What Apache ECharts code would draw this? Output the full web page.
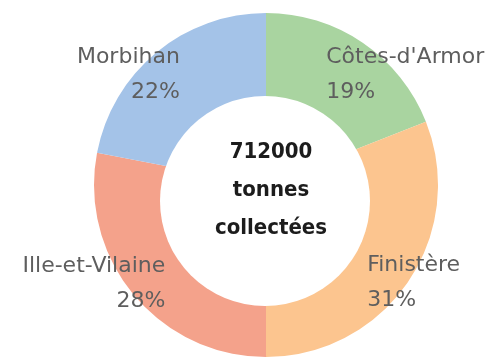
<!DOCTYPE html>
<html>
<head>
<meta charset="utf-8">
<script src="https://cdn.jsdelivr.net/npm/echarts@6/dist/echarts.min.js"></script>
<style>
  html, body { margin: 0; padding: 0; background: #fff; }
  #chartPie { width: 485px; height: 361px; }
</style>
</head>
<body>
<div id="chartPie"></div>
<script>
  // déchets collectés par département (%)
  const departements = ['Côtes-d\'Armor', 'Finistère', 'Ille-et-Vilaine', 'Morbihan']
  const parts = [19, 31, 28, 22]
  const couleurs = ['#a9d4a0', '#fcc58f', '#f4a28b', '#a4c3e8']
  const total = '712000'

  // décalage des étiquettes par rapport au milieu de l'anneau
  const labelAlign = ['left', 'left', 'right', 'right']
  const labelShift = [[-14, -1], [-8, 24], [1, 15], [-2, -9]]

  const myChart = echarts.init(document.getElementById('chartPie'))
  const option = {
    backgroundColor: '#fff',
    animation: false,
    title: {
      text: total + '\ntonnes\ncollectées',
      left: 266,
      top: 128,
      textAlign: 'center',
      textStyle: {
        fontFamily: 'DejaVu Sans Condensed',
        fontWeight: 'bold',
        fontSize: 22,
        lineHeight: 38,
        color: '#1c1c1c'
      }
    },
    series: [{
      name: 'collecte',
      type: 'pie',
      center: [266, 185],
      radius: [86, 172],
      startAngle: 90,
      clockwise: true,
      silent: true,
      avoidLabelOverlap: false,
      z: 2,
      label: {
        show: true,
        position: 'inside',
        formatter: '{b}\n{c}%',
        fontFamily: 'DejaVu Sans',
        fontSize: 22,
        lineHeight: 35,
        color: '#5e5e5e'
      },
      labelLine: { show: false },
      labelLayout: function (params) {
        const i = params.dataIndex
        return {
          align: labelAlign[i],
          dx: labelShift[i][0],
          dy: labelShift[i][1]
        }
      },
      data: departements.map((name, i) => ({
        name: name,
        value: parts[i],
        itemStyle: { color: couleurs[i] }
      }))
    }, {
      // disque blanc central, légèrement décalé vers le bas
      name: 'trou',
      type: 'pie',
      center: [265, 201],
      radius: [0, 105],
      silent: true,
      z: 3,
      label: { show: false },
      labelLine: { show: false },
      data: [{ value: 1, itemStyle: { color: '#fff' } }]
    }]
  }
  myChart.setOption(option)
</script>
</body>
</html>
